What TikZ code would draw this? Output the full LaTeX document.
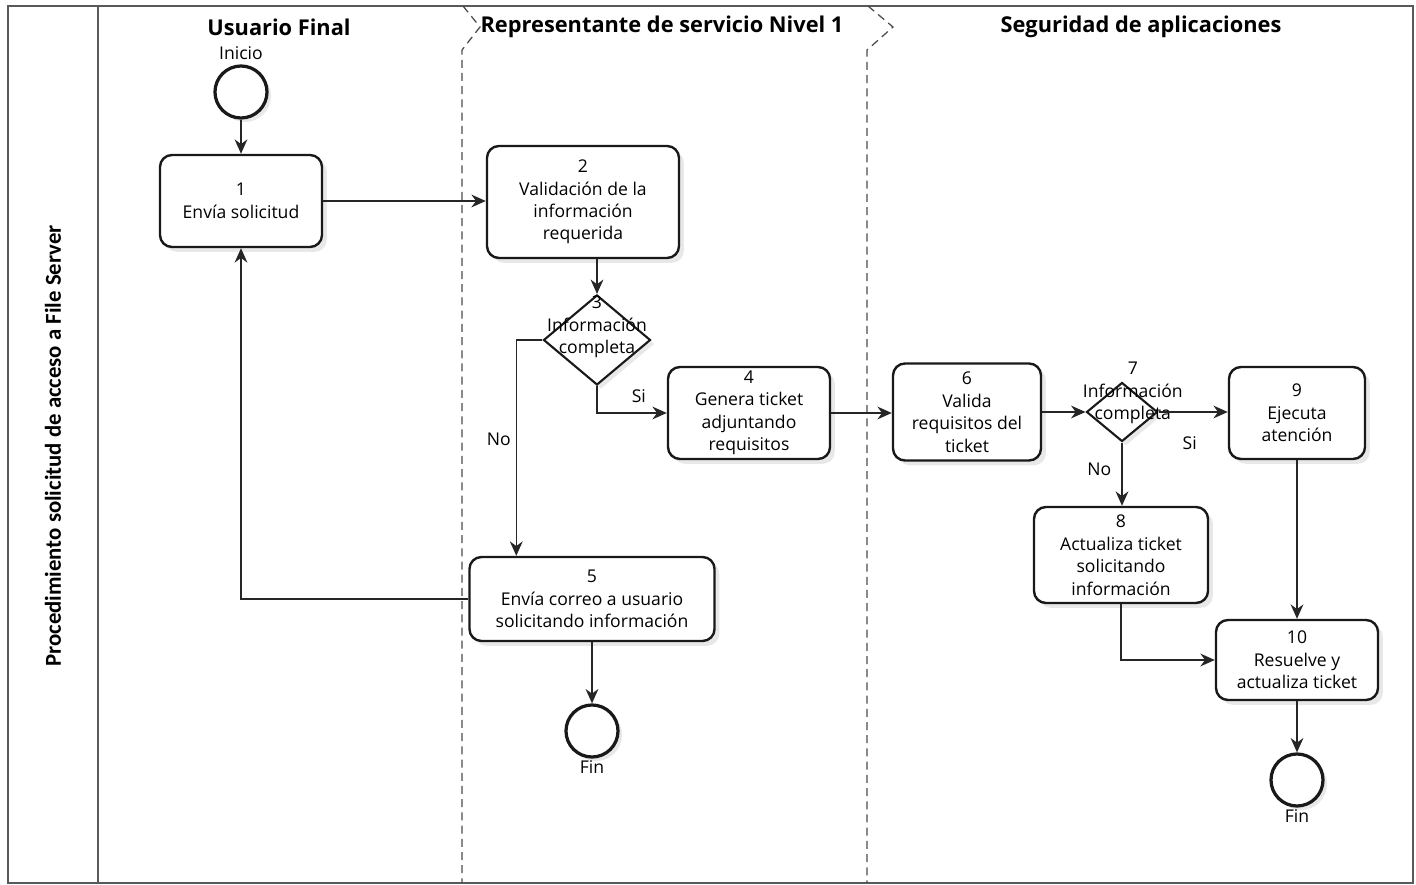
\documentclass[tikz,border=0pt]{standalone}
\usepackage{fontspec}
\setmainfont{Open Sans}
\newfontfamily\poolfont{Carlito}
\usetikzlibrary{shapes.geometric, arrows.meta, shadows}
\tikzset{task/.style={draw=black!90, rounded corners=0.3cm, line width=1.7pt, fill=white, align=center, inner sep=0pt, font=\fontsize{12.5}{16}\selectfont, drop shadow={shadow xshift=0.12cm, shadow yshift=-0.12cm, opacity=0.18}}}
\tikzset{gate/.style={draw=black!90, diamond, line width=1.5pt, fill=white, inner sep=0pt, drop shadow={shadow xshift=0.1cm, shadow yshift=-0.1cm, opacity=0.18}}}
\tikzset{event/.style={draw=black!90, circle, line width=2.3pt, fill=white, minimum size=1.3cm, inner sep=0pt, drop shadow={shadow xshift=0.1cm, shadow yshift=-0.1cm, opacity=0.18}}}
\tikzset{flow/.style={-{Stealth[length=0.36cm, width=0.32cm]}, line width=1.1pt, draw=black!85}}
\tikzset{lane/.style={dash pattern=on 0.2cm off 0.13cm, line width=0.9pt, draw=black!70}}
\tikzset{pool/.style={line width=1.1pt, draw=black!65}}
\tikzset{lbl/.style={font=\fontsize{12.5}{16}\selectfont, inner sep=0pt, align=center}}
\tikzset{head/.style={font=\bfseries\fontsize{15.5}{18}\selectfont, inner sep=0pt}}

\begin{document}
\begin{tikzpicture}[x=0.025cm, y=-0.025cm]
    \useasboundingbox (0,0) rectangle (1416,885);
    \draw[pool] (8,6) rectangle (1413,883);
    \draw[pool] (98,6) -- (98,883);
    \draw[lane] (463,6) -- (480,27) -- (462,50) -- (462,883);
    \draw[lane] (868,6) -- (893,27) -- (867,50) -- (867,883);

    \node[rotate=90, font=\poolfont\bfseries\fontsize{16.2}{18}\selectfont] (P) at (53, 446) {Procedimiento solicitud de acceso a File Server};
    \node[head] (U) at (279, 27) {Usuario Final};
    \node[head] (R) at (662, 27) {Representante de servicio Nivel 1};
    \node[head] (S) at (1141, 27) {Seguridad de aplicaciones};

    \node[event, label={[lbl, label distance=0.12cm]90:Inicio}] (A) at (241, 92) {};
    \node[task, minimum width=4.05cm, minimum height=2.3cm] (B) at (241, 201) {1\\Envía solicitud};
    \node[task, minimum width=4.8cm, minimum height=2.8cm] (C) at (583, 202) {2\\Validación de la\\información\\requerida};
    \node[gate, minimum width=2.675cm, minimum height=2.25cm,
          label={[lbl, yshift=0.32cm]center:3\\Información\\completa}] (D) at (597, 340) {};
    \node[task, minimum width=4.05cm, minimum height=2.3cm] (F) at (749, 413) {4\\Genera ticket\\adjuntando\\requisitos};
    \node[task, minimum width=6.125cm, minimum height=2.1cm] (E) at (592, 599) {5\\Envía correo a usuario\\solicitando información};
    \node[event, label={[lbl, label distance=0.05cm]-90:Fin}] (L) at (592, 731) {};

    \node[task, minimum width=3.7cm, minimum height=2.425cm] (G) at (967, 412) {6\\Valida\\requisitos del\\ticket};
    \node[gate, minimum width=1.775cm, minimum height=1.475cm,
          label={[lbl, yshift=0.47cm, xshift=0.27cm]center:7\\Información\\completa}] (H) at (1122, 412) {};
    \node[task, minimum width=3.4cm, minimum height=2.3cm] (J) at (1297, 413) {9\\Ejecuta\\atención};
    \node[task, minimum width=4.35cm, minimum height=2.4cm] (I) at (1121, 555) {8\\Actualiza ticket\\solicitando\\información};
    \node[task, minimum width=4.05cm, minimum height=2.0cm] (K) at (1297, 660) {10\\Resuelve y\\actualiza ticket};
    \node[event, label={[lbl, label distance=0.05cm]-90:Fin}] (M) at (1297, 780) {};

    \draw[flow] (A) -- (B);
    \draw[flow] (B.east) -- (B.east -| C.west);
    \draw[flow] (C.south -| D.north) -- (D.north);
    \draw[flow] (D.west) -| ([xshift=1.2cm]E.north west) node[lbl, pos=0.73, left=0.12cm] {No};
    \draw[flow] (D.south) |- (F.west) node[lbl, pos=0.8, above=0.25cm] {Si};
    \draw[flow] (E.west) -| (B.south);
    \draw[flow] (E) -- (L);
    \draw[flow] (F.east) -- (F.east -| G.west);
    \draw[flow] (G.east) -- (H.west);
    \draw[flow] (H.east) -- (H.east -| J.west) node[lbl, pos=0.45, below=0.6cm] {Si};
    \draw[flow] (H.south) -- (H.south |- I.north) node[lbl, pos=0.42, left=0.25cm] {No};
    \draw[flow] (J.south) -- (J.south |- K.north);
    \draw[flow] (I.south) |- (K.west);
    \draw[flow] (K) -- (M);
\end{tikzpicture}
\end{document}
